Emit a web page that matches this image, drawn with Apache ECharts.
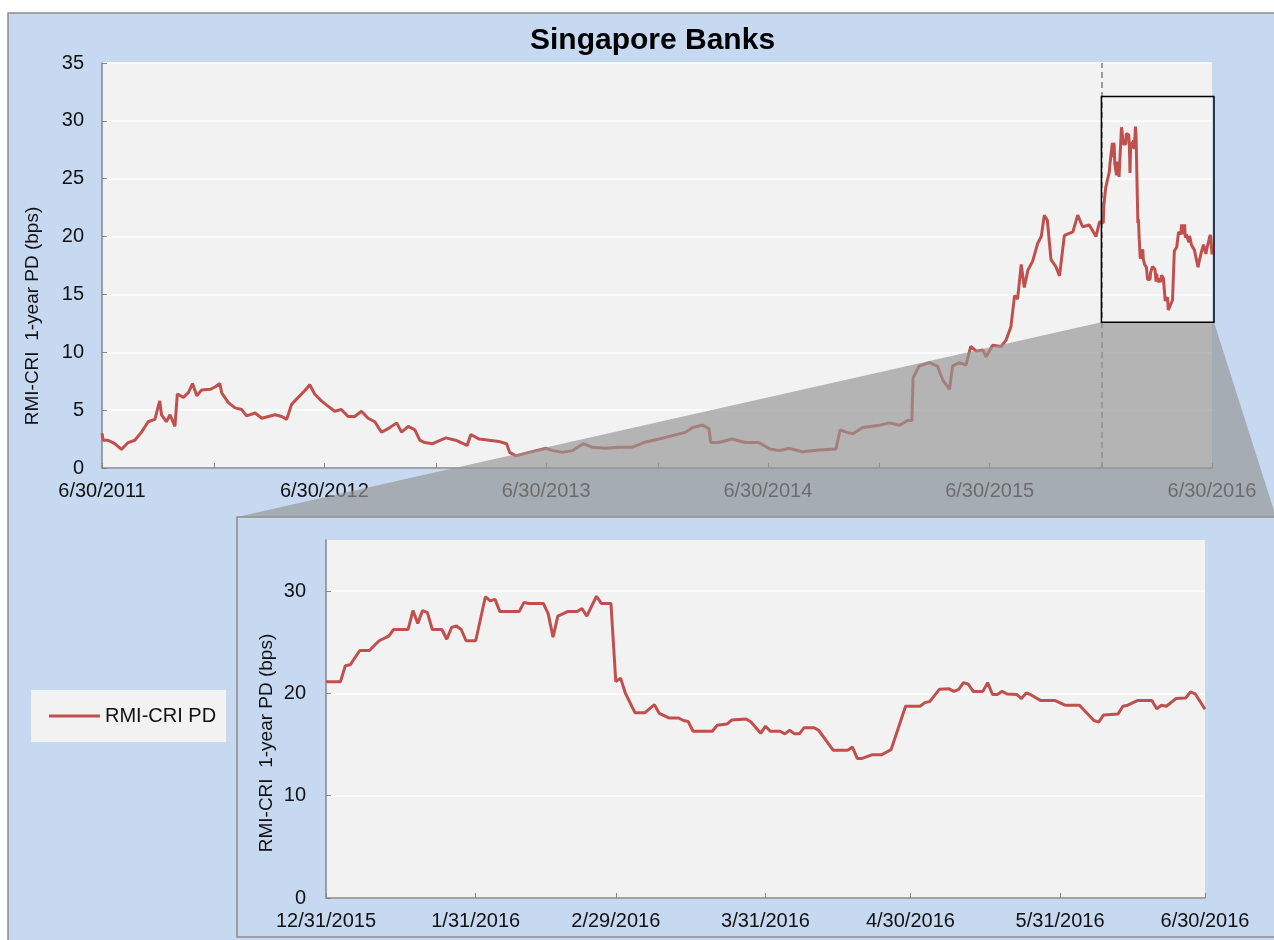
<!DOCTYPE html>
<html>
<head>
<meta charset="utf-8">
<title>Singapore Banks</title>
<script src="https://cdn.jsdelivr.net/npm/echarts@6/dist/echarts.min.js"></script>
<style>
  html, body { margin: 0; padding: 0; background: #fff; }
  #chart { width: 1274px; height: 940px; }
</style>
</head>
<body>
<div id="chart"></div>
<script>
// RMI-CRI 1-year PD (bps)
const histDates = [
  '2011-06-30', '2011-07-02', '2011-07-10', '2011-07-21', '2011-08-01', '2011-08-12', '2011-08-23',
  '2011-09-03', '2011-09-14', '2011-09-25', '2011-10-03', '2011-10-06', '2011-10-14', '2011-10-20',
  '2011-10-28', '2011-11-01', '2011-11-11', '2011-11-19', '2011-11-26', '2011-12-03', '2011-12-11',
  '2011-12-25', '2012-01-02', '2012-01-10', '2012-01-13', '2012-01-24', '2012-02-04', '2012-02-15',
  '2012-02-23', '2012-03-08', '2012-03-19', '2012-03-30', '2012-04-10', '2012-04-21', '2012-04-29',
  '2012-05-07', '2012-05-18', '2012-05-29', '2012-06-06', '2012-06-14', '2012-06-25', '2012-07-06',
  '2012-07-17', '2012-07-28', '2012-08-08', '2012-08-19', '2012-08-30', '2012-09-10', '2012-09-21',
  '2012-10-02', '2012-10-13', '2012-10-27', '2012-11-04', '2012-11-15', '2012-11-26', '2012-12-04',
  '2012-12-12', '2012-12-25', '2013-01-16', '2013-02-01', '2013-02-20', '2013-02-26', '2013-03-12',
  '2013-03-28', '2013-04-13', '2013-04-26', '2013-05-01', '2013-05-11', '2013-06-02', '2013-06-30',
  '2013-07-11', '2013-07-27', '2013-08-12', '2013-08-30', '2013-09-14', '2013-10-06', '2013-10-28',
  '2013-11-19', '2013-12-11', '2014-01-02', '2014-01-24', '2014-02-15', '2014-02-26', '2014-03-14',
  '2014-03-25', '2014-03-28', '2014-04-10', '2014-05-02', '2014-05-24', '2014-06-15', '2014-07-03',
  '2014-07-19', '2014-08-04', '2014-08-26', '2014-09-23', '2014-10-20', '2014-10-27', '2014-11-06',
  '2014-11-17', '2014-12-03', '2014-12-31', '2015-01-16', '2015-02-02', '2015-02-15', '2015-02-22',
  '2015-02-24', '2015-03-06', '2015-03-23', '2015-04-05', '2015-04-14', '2015-04-25', '2015-04-30',
  '2015-05-11', '2015-05-22', '2015-05-30', '2015-06-08', '2015-06-19', '2015-06-24', '2015-07-05',
  '2015-07-19', '2015-07-27', '2015-08-04', '2015-08-10', '2015-08-15', '2015-08-21', '2015-08-26',
  '2015-09-01', '2015-09-09', '2015-09-17', '2015-09-23', '2015-09-28', '2015-10-03', '2015-10-09',
  '2015-10-17', '2015-10-23', '2015-10-31', '2015-11-14', '2015-11-22', '2015-11-30', '2015-12-11',
  '2015-12-22', '2015-12-28'
];
const histValues = [
  3.0, 2.4, 2.4, 2.1, 1.6, 2.2, 2.4,
  3.1, 4.0, 4.2, 5.8, 4.6, 4.0, 4.6,
  3.6, 6.4, 6.1, 6.5, 7.3, 6.25, 6.75,
  6.8, 7.0, 7.3, 6.5, 5.65, 5.2, 5.05,
  4.5, 4.75, 4.3, 4.45, 4.6, 4.45, 4.2,
  5.5, 6.1, 6.7, 7.2, 6.4, 5.8, 5.35,
  4.9, 5.05, 4.45, 4.45, 4.9, 4.3, 4.0,
  3.1, 3.4, 3.9, 3.1, 3.6, 3.3, 2.4,
  2.2, 2.1, 2.6, 2.4, 1.95, 2.9, 2.5,
  2.4, 2.3, 2.1, 1.35, 1.05, 1.35, 1.7,
  1.5, 1.35, 1.5, 2.1, 1.8, 1.7, 1.8,
  1.8, 2.25, 2.5, 2.8, 3.1, 3.5, 3.7,
  3.4, 2.2, 2.2, 2.5, 2.2, 2.2, 1.65,
  1.5, 1.7, 1.4, 1.55, 1.65, 3.3, 3.1,
  2.95, 3.5, 3.7, 3.9, 3.7, 4.1, 4.1,
  7.8, 8.8, 9.1, 8.8, 7.6, 6.8, 8.8,
  9.1, 8.9, 10.5, 10.1, 10.2, 9.6, 10.6,
  10.5, 11.05, 12.2, 14.9, 14.6, 17.6, 15.6,
  17.1, 17.9, 19.4, 20.0, 21.85, 21.4, 18.0,
  17.4, 16.6, 20.1, 20.4, 21.85, 20.85, 21.0,
  20.0, 21.3
];

// zoomed window, 12/31/2015 - 6/30/2016
const zoomDates = [
  '2015-12-31', '2016-01-03', '2016-01-04', '2016-01-05', '2016-01-07', '2016-01-09', '2016-01-11',
  '2016-01-13', '2016-01-14', '2016-01-17', '2016-01-18', '2016-01-19', '2016-01-20', '2016-01-21',
  '2016-01-22', '2016-01-24', '2016-01-25', '2016-01-26', '2016-01-27', '2016-01-28', '2016-01-29',
  '2016-01-31', '2016-02-02', '2016-02-03', '2016-02-04', '2016-02-05', '2016-02-09', '2016-02-10',
  '2016-02-11', '2016-02-14', '2016-02-15', '2016-02-16', '2016-02-17', '2016-02-19', '2016-02-21',
  '2016-02-22', '2016-02-23', '2016-02-25', '2016-02-26', '2016-02-28', '2016-02-29', '2016-03-01',
  '2016-03-02', '2016-03-04', '2016-03-06', '2016-03-08', '2016-03-09', '2016-03-11', '2016-03-13',
  '2016-03-14', '2016-03-15', '2016-03-16', '2016-03-20', '2016-03-21', '2016-03-23', '2016-03-24',
  '2016-03-27', '2016-03-28', '2016-03-30', '2016-03-31', '2016-04-01', '2016-04-03', '2016-04-04',
  '2016-04-05', '2016-04-06', '2016-04-07', '2016-04-08', '2016-04-10', '2016-04-11', '2016-04-14',
  '2016-04-17', '2016-04-18', '2016-04-19', '2016-04-20', '2016-04-22', '2016-04-24', '2016-04-26',
  '2016-04-29', '2016-05-02', '2016-05-03', '2016-05-04', '2016-05-06', '2016-05-08', '2016-05-09',
  '2016-05-10', '2016-05-11', '2016-05-12', '2016-05-13', '2016-05-15', '2016-05-16', '2016-05-17',
  '2016-05-18', '2016-05-19', '2016-05-20', '2016-05-22', '2016-05-23', '2016-05-24', '2016-05-25',
  '2016-05-27', '2016-05-30', '2016-06-01', '2016-06-04', '2016-06-07', '2016-06-08', '2016-06-09',
  '2016-06-12', '2016-06-13', '2016-06-14', '2016-06-16', '2016-06-19', '2016-06-20', '2016-06-21',
  '2016-06-22', '2016-06-24', '2016-06-26', '2016-06-27', '2016-06-28', '2016-06-30'
];
const zoomValues = [
  21.15, 21.15, 22.7, 22.8, 24.2, 24.2, 25.15,
  25.6, 26.25, 26.25, 28.1, 26.85, 28.1, 27.9,
  26.25, 26.25, 25.3, 26.45, 26.6, 26.25, 25.15,
  25.15, 29.45, 29.05, 29.2, 28.0, 28.0, 28.9,
  28.8, 28.8, 27.8, 25.5, 27.55, 28.0, 28.0,
  28.3, 27.55, 29.5, 28.8, 28.8, 21.15, 21.5,
  20.0, 18.1, 18.1, 18.9, 18.05, 17.6, 17.6,
  17.35, 17.25, 16.3, 16.3, 16.9, 17.0, 17.4,
  17.5, 17.2, 16.1, 16.8, 16.3, 16.3, 16.05,
  16.4, 16.05, 16.05, 16.65, 16.65, 16.4, 14.45,
  14.45, 14.75, 13.65, 13.65, 14.0, 14.0, 14.5,
  18.75, 18.75, 19.1, 19.2, 20.4, 20.45, 20.2,
  20.4, 21.05, 20.9, 20.2, 20.2, 21.05, 19.9,
  19.9, 20.2, 19.95, 19.9, 19.5, 20.05, 19.85,
  19.3, 19.3, 18.85, 18.85, 17.35, 17.2, 17.9,
  18.0, 18.75, 18.85, 19.3, 19.3, 18.5, 18.85,
  18.75, 19.5, 19.55, 20.15, 19.95, 18.45
];

const topTickDates = ['2011-06-30', '2011-12-31', '2012-06-30', '2012-12-31', '2013-06-30', '2013-12-31',
  '2014-06-30', '2014-12-31', '2015-06-30', '2015-12-31', '2016-06-30'];
const topLabelDates = ['2011-06-30', '2012-06-30', '2013-06-30', '2014-06-30', '2015-06-30', '2016-06-30'];
const zoomTickDates = ['2015-12-31', '2016-01-31', '2016-02-29', '2016-03-31', '2016-04-30', '2016-05-31', '2016-06-30'];
const zoomYLabels = [0, 10, 20, 30];
const zoomBoxLow = 12.6;
const zoomBoxHigh = 32.1;

const ts = s => {
  const p = s.split('-').map(Number);
  return Date.UTC(p[0], p[1] - 1, p[2]);
};
const fmtDate = v => {
  const d = new Date(v);
  return (d.getUTCMonth() + 1) + '/' + d.getUTCDate() + '/' + d.getUTCFullYear();
};

const histData = histDates.map((d, i) => [ts(d), histValues[i]]);
const zoomData = zoomDates.map((d, i) => [ts(d), zoomValues[i]]);

const FONT = 'Liberation Sans, Arial, sans-serif';
const RED = '#c0504d';
const AXIS_GRAY = '#868686';
const BLUE = '#c6d9f0';

const axisLabelStyle = { fontSize: 20, color: '#111', fontFamily: FONT };

// x axes are plain value axes holding UTC timestamps, ticks placed on month ends
const dateAxis = (gridIndex, minDate, maxDate, tickDates, labelDates) => ({
  type: 'value', gridIndex,
  min: ts(minDate), max: ts(maxDate),
  splitLine: { show: false },
  axisLine: { lineStyle: { color: AXIS_GRAY, width: 1.5 } },
  axisTick: { inside: true, length: 5, lineStyle: { color: AXIS_GRAY }, customValues: tickDates.map(ts) },
  axisLabel: Object.assign({ margin: 13, customValues: labelDates.map(ts), formatter: fmtDate }, axisLabelStyle)
});

const option = {
  animation: false,
  backgroundColor: '#ffffff',
  textStyle: { fontFamily: FONT },
  title: {
    text: 'Singapore Banks',
    left: 525,
    top: 21,
    textStyle: { fontSize: 30, fontWeight: 'bold', color: '#000', fontFamily: FONT }
  },
  legend: {
    left: 31,
    top: 690,
    padding: [16, 10, 16, 18],
    backgroundColor: '#f2f2f2',
    itemWidth: 51,
    itemHeight: 3,
    itemGap: 5,
    data: [{ name: 'RMI-CRI PD', icon: 'rect' }],
    textStyle: { fontSize: 20, color: '#111', fontFamily: FONT }
  },
  grid: [
    { left: 102, top: 63, right: 62, bottom: 472, show: true, backgroundColor: '#f2f2f2', borderWidth: 0, outerBoundsMode: 'none' },
    { left: 326, top: 540, right: 69, bottom: 42, show: true, backgroundColor: '#f2f2f2', borderWidth: 0, outerBoundsMode: 'none' }
  ],
  xAxis: [
    dateAxis(0, '2011-06-30', '2016-06-30', topTickDates, topLabelDates),
    dateAxis(1, '2015-12-31', '2016-06-30', zoomTickDates, zoomTickDates)
  ],
  yAxis: [
    {
      type: 'value', gridIndex: 0, min: 0, max: 35, interval: 5,
      axisLine: { show: true, lineStyle: { color: AXIS_GRAY, width: 1.5 } },
      axisTick: { show: true, inside: true, length: 5, lineStyle: { color: AXIS_GRAY } },
      splitLine: { lineStyle: { color: '#ffffff', width: 1.5 } },
      axisLabel: Object.assign({ margin: 18 }, axisLabelStyle)
    },
    {
      type: 'value', gridIndex: 1, min: 0, max: 35, interval: 10,
      axisLine: { show: true, lineStyle: { color: AXIS_GRAY, width: 1.5 } },
      axisTick: { show: true, inside: true, length: 5, lineStyle: { color: AXIS_GRAY }, customValues: zoomYLabels },
      splitLine: { lineStyle: { color: '#ffffff', width: 1.5 } },
      axisLabel: Object.assign({ margin: 20, customValues: zoomYLabels }, axisLabelStyle)
    }
  ],
  series: [
    {
      name: 'RMI-CRI PD',
      type: 'line',
      xAxisIndex: 0, yAxisIndex: 0,
      data: histData.concat(zoomData),
      showSymbol: false,
      symbol: 'none',
      lineStyle: { color: RED, width: 3 },
      itemStyle: { color: RED },
      markLine: {
        silent: true,
        symbol: 'none',
        label: { show: false },
        lineStyle: { color: '#7f7f7f', type: [6, 4], width: 1.5 },
        data: [{ xAxis: ts(zoomDates[0]) }]
      }
    },
    {
      name: 'RMI-CRI PD',
      type: 'line',
      xAxisIndex: 1, yAxisIndex: 1,
      data: zoomData,
      showSymbol: false,
      symbol: 'none',
      lineStyle: { color: RED, width: 3 },
      itemStyle: { color: RED }
    }
  ]
};

const chart = echarts.init(document.getElementById('chart'));
chart.setOption(option);

// zoom box and connector, placed from the top axes
const boxTL = chart.convertToPixel({ gridIndex: 0 }, [ts(zoomDates[0]), zoomBoxHigh]);
const boxBR = chart.convertToPixel({ gridIndex: 0 }, [ts(zoomDates[zoomDates.length - 1]), zoomBoxLow]);
const boxRight = boxBR[0] + 2;
const panel = { x: 237, y: 517, w: 1100, h: 420 };

chart.setOption({
  graphic: [
    {
      type: 'rect', z: -10, silent: true,
      shape: { x: 8, y: 13, width: 1300, height: 1000 },
      style: { fill: BLUE, stroke: '#8c8c8c', lineWidth: 1.5 }
    },
    {
      type: 'rect', z: -5, silent: true,
      shape: { x: panel.x, y: panel.y, width: panel.w, height: panel.h },
      style: { fill: BLUE, stroke: '#8c8c8c', lineWidth: 1.5 }
    },
    {
      type: 'polygon', z: 100, silent: true,
      shape: { points: [[boxTL[0], boxBR[1]], [boxRight, boxBR[1]], [1276, panel.y], [panel.x, panel.y]] },
      style: { fill: 'rgba(150,150,150,0.68)' }
    },
    {
      type: 'rect', z: 101, silent: true,
      shape: { x: boxTL[0], y: boxTL[1], width: boxRight - boxTL[0], height: boxBR[1] - boxTL[1] },
      style: { fill: 'none', stroke: '#000', lineWidth: 1.5 }
    },
    {
      type: 'text', z: 10, silent: true, x: 33, y: 316, rotation: Math.PI / 2,
      style: { text: 'RMI-CRI  1-year PD (bps)', font: '19px ' + FONT, fill: '#111', align: 'center', verticalAlign: 'middle' }
    },
    {
      type: 'text', z: 10, silent: true, x: 267, y: 743, rotation: Math.PI / 2,
      style: { text: 'RMI-CRI  1-year PD (bps)', font: '19px ' + FONT, fill: '#111', align: 'center', verticalAlign: 'middle' }
    }
  ]
});
</script>
</body>
</html>
